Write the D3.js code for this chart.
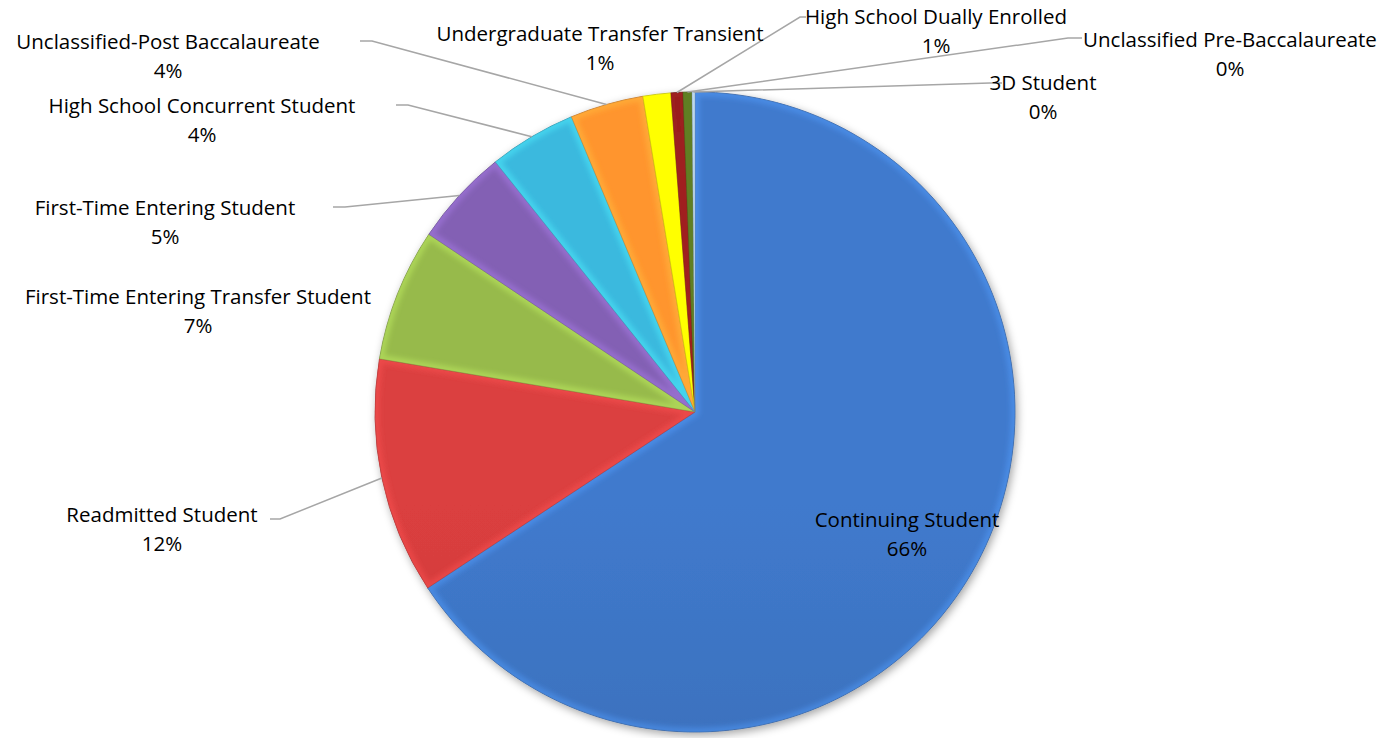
<!DOCTYPE html>
<html>
<head>
<meta charset="utf-8">
<script src="https://cdn.jsdelivr.net/npm/d3@7"></script>
<style>
  html, body { margin: 0; padding: 0; background: #ffffff; }
  svg { display: block; }
  text { font-family: "Open Sans", "Lato", sans-serif; fill: #000; }
</style>
</head>
<body>
<svg id="chart" width="1398" height="738"></svg>
<script>
// ---- data ----
const categories = [
  "Continuing Student",
  "Readmitted Student",
  "First-Time Entering Transfer Student",
  "First-Time Entering Student",
  "High School Concurrent Student",
  "Unclassified-Post Baccalaureate",
  "Undergraduate Transfer Transient",
  "High School Dually Enrolled",
  "Unclassified Pre-Baccalaureate",
  "3D Student"
];
const values = [65.6, 11.9, 6.7, 4.9, 4.4, 3.7, 1.4, 0.6, 0.45, 0.15];
const colors = ["#3d74c2", "#d03c3c", "#8fb048", "#7c5cab", "#38afd2", "#f48d2c", "#f2f200", "#851a1a", "#506a1e", "#9db4d6"];

// ---- layout (label placement, not data) ----
// [labelCenterX, firstLineY, elbowX, elbowY, lineEndX] ; null elbow => no leader
const labelLayout = [
  [907, 520, null, null, null],
  [162, 515, 280, 519, 270],
  [198, 297, null, null, null],
  [165, 208, 345, 207, 333],
  [202, 106, 408, 105, 396],
  [168, 42, 372, 41, 360],
  [600, 34, null, null, null],
  [936, 17, 800, 17, 806],
  [1230, 40, 1068, 38, 1082],
  [1043, 83, 990, 83, 1002]
];

const svg = d3.select("#chart");
const cx = 695, cy = 412, R = 320;
const defs = svg.append("defs");

const filt = defs.append("filter").attr("id", "shadow")
  .attr("x", "-10%").attr("y", "-10%").attr("width", "120%").attr("height", "120%");
filt.append("feDropShadow").attr("dx", 2).attr("dy", 3).attr("stdDeviation", 4)
  .attr("flood-color", "#000").attr("flood-opacity", 0.35);

const blur = defs.append("filter").attr("id", "blur");
blur.append("feGaussianBlur").attr("stdDeviation", 2.5);

const pie = d3.pie().sort(null).value(d => d)(values);
const arc = d3.arc().innerRadius(0).outerRadius(R);

colors.forEach((c, i) => {
  const g = defs.append("linearGradient").attr("id", "grad" + i)
    .attr("gradientUnits", "userSpaceOnUse")
    .attr("x1", 0).attr("y1", cy - R).attr("x2", 0).attr("y2", cy + R);
  g.append("stop").attr("offset", "0%").attr("stop-color", d3.color(c).brighter(0.15));
  g.append("stop").attr("offset", "100%").attr("stop-color", d3.color(c).darker(0.45));
  defs.append("clipPath").attr("id", "clip" + i)
    .append("path").attr("transform", `translate(${cx},${cy})`).attr("d", arc(pie[i]));
});

// pie with shadow
const pieG = svg.append("g").attr("filter", "url(#shadow)");
const slices = pieG.append("g").attr("transform", `translate(${cx},${cy})`);
slices.selectAll("path.slice").data(pie).join("path")
  .attr("class", "slice")
  .attr("d", arc)
  .attr("fill", (d, i) => `url(#grad${i})`)
  .attr("stroke", (d, i) => d3.color(colors[i]).darker(0.8))
  .attr("stroke-width", 0.8);

// bevel highlight
const bev = svg.append("g");
pie.forEach((d, i) => {
  bev.append("g").attr("clip-path", `url(#clip${i})`)
    .append("path")
    .attr("transform", `translate(${cx},${cy})`)
    .attr("d", arc(d))
    .attr("fill", "none")
    .attr("stroke", d3.color(colors[i]).brighter(0.9))
    .attr("stroke-opacity", 0.45)
    .attr("stroke-width", 9)
    .attr("filter", "url(#blur)");
});

// leader lines
const lines = svg.append("g");
pie.forEach((d, i) => {
  const L = labelLayout[i];
  if (L[2] === null) return;
  const mid = (d.startAngle + d.endAngle) / 2;
  const px = cx + R * Math.sin(mid), py = cy - R * Math.cos(mid);
  lines.append("polyline")
    .attr("points", `${px},${py} ${L[2]},${L[3]} ${L[4]},${L[3]}`)
    .attr("fill", "none").attr("stroke", "#a6a6a6").attr("stroke-width", 1.5);
});

// labels
const total = d3.sum(values);
const labels = svg.append("g");
pie.forEach((d, i) => {
  const L = labelLayout[i];
  const t = labels.append("text").attr("text-anchor", "middle")
    .attr("font-size", 20.5);
  t.append("tspan").attr("x", L[0]).attr("y", L[1]).attr("dy", "0.35em").text(categories[i]);
  t.append("tspan").attr("x", L[0]).attr("y", L[1] + 29).attr("dy", "0.35em")
    .text(Math.round(values[i] / total * 100) + "%");
});
</script>
</body>
</html>
